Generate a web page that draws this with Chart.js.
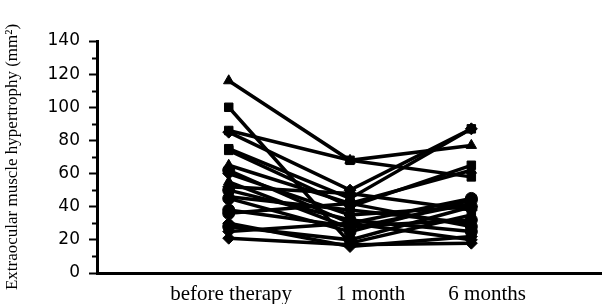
<!DOCTYPE html>
<html>
<head>
<meta charset="utf-8">
<script src="https://cdn.jsdelivr.net/npm/chart.js@4.4.1/dist/chart.umd.min.js"></script>
<style>
  html, body { margin: 0; padding: 0; background: #fff; }
  #wrap { width: 608px; height: 304px; }
</style>
</head>
<body>
<div id="wrap"><canvas id="hypertrophyChart" width="608" height="304"></canvas></div>
<script>
// Time points (x categories)
const timepoints = ['before therapy', '1 month', '6 months'];

// One value per patient at each time point (mm2)
const beforeTherapy = [116, 100, 86, 85, 75, 74, 65, 62, 60, 55, 52, 50, 46, 45, 38, 36, 30, 28, 25, 21];
const oneMonth      = [ 68,  18, 68, 50, 45, 40, 42, 30, 35, 27, 48, 32, 38, 25, 28, 42, 16, 20, 30, 17];
const sixMonths     = [ 77,  35, 58, 87, 87, 65, 62, 45, 40, 42, 38, 25, 30, 44, 32, 28, 22, 40, 20, 18];

// Marker shape per patient
const markerShapes = ['triangle', 'rect', 'rect', 'rectRot', 'rect', 'rect', 'triangle', 'circle', 'rectRot', 'triangle',
                      'rectRot', 'circle', 'rect', 'circle', 'circle', 'circle', 'rectRot', 'circle', 'rectRot', 'rectRot'];

const yTicks = [0, 20, 40, 60, 80, 100, 120, 140];

// Build datasets from the arrays
const datasets = beforeTherapy.map((v, i) => ({
    label: 'Patient ' + (i + 1),
    data: [
        { x: 0, y: v },
        { x: 1, y: oneMonth[i] },
        { x: 2, y: sixMonths[i] }
    ],
    borderColor: '#000',
    backgroundColor: '#000',
    borderWidth: 3.5,
    pointStyle: markerShapes[i],
    pointRadius: 6,
    pointBackgroundColor: '#000',
    pointBorderColor: '#000',
    pointBorderWidth: 1,
    tension: 0
}));

// Short minor ticks between the labelled ones
const minorTicks = {
    id: 'minorTicks',
    afterDraw(chart) {
        const y = chart.scales.y;
        const ctx = chart.ctx;
        ctx.save();
        ctx.strokeStyle = '#000';
        ctx.lineWidth = 2;
        for (let v = 10; v < 140; v += 20) {
            const py = Math.round(y.getPixelForValue(v)) + 0.5;
            ctx.beginPath();
            ctx.moveTo(y.right - 5, py);
            ctx.lineTo(y.right, py);
            ctx.stroke();
        }
        ctx.restore();
    }
};

const labelPositions = [0.02, 1.17, 2.13];

new Chart(document.getElementById('hypertrophyChart'), {
    type: 'line',
    data: { datasets },
    plugins: [minorTicks],
    options: {
        responsive: false,
        animation: false,
        layout: { padding: { top: 41, right: 2, left: 0, bottom: 0 } },
        plugins: {
            legend: { display: false },
            tooltip: { enabled: false }
        },
        scales: {
            x: {
                type: 'linear',
                min: -1.086,
                max: 3.069,
                afterFit(scale) { scale.height = 31; },
                afterBuildTicks(scale) {
                    scale.ticks = labelPositions.map(v => ({ value: v }));
                },
                grid: { display: false },
                border: { display: true, color: '#000', width: 3 },
                ticks: {
                    color: '#000',
                    padding: 1,
                    maxRotation: 0,
                    autoSkip: false,
                    font: { family: 'Liberation Serif', size: 21 },
                    callback: (v, i) => timepoints[i]
                }
            },
            y: {
                min: 0,
                max: 140,
                afterFit(scale) { scale.width = 97; },
                afterBuildTicks(scale) {
                    scale.ticks = yTicks.map(v => ({ value: v }));
                },
                grid: {
                    drawOnChartArea: false,
                    color: '#000',
                    tickColor: '#000',
                    tickLength: 8,
                    tickWidth: 2
                },
                border: { display: true, color: '#000', width: 3 },
                ticks: {
                    color: '#000',
                    padding: 9,
                    font: { family: 'DejaVu Sans', size: 17 }
                },
                title: {
                    display: true,
                    text: 'Extraocular muscle hypertrophy (mm²)',
                    color: '#000',
                    padding: { top: 2, bottom: 0 },
                    font: { family: 'Liberation Serif', size: 17 }
                }
            }
        }
    }
});
</script>
</body>
</html>
